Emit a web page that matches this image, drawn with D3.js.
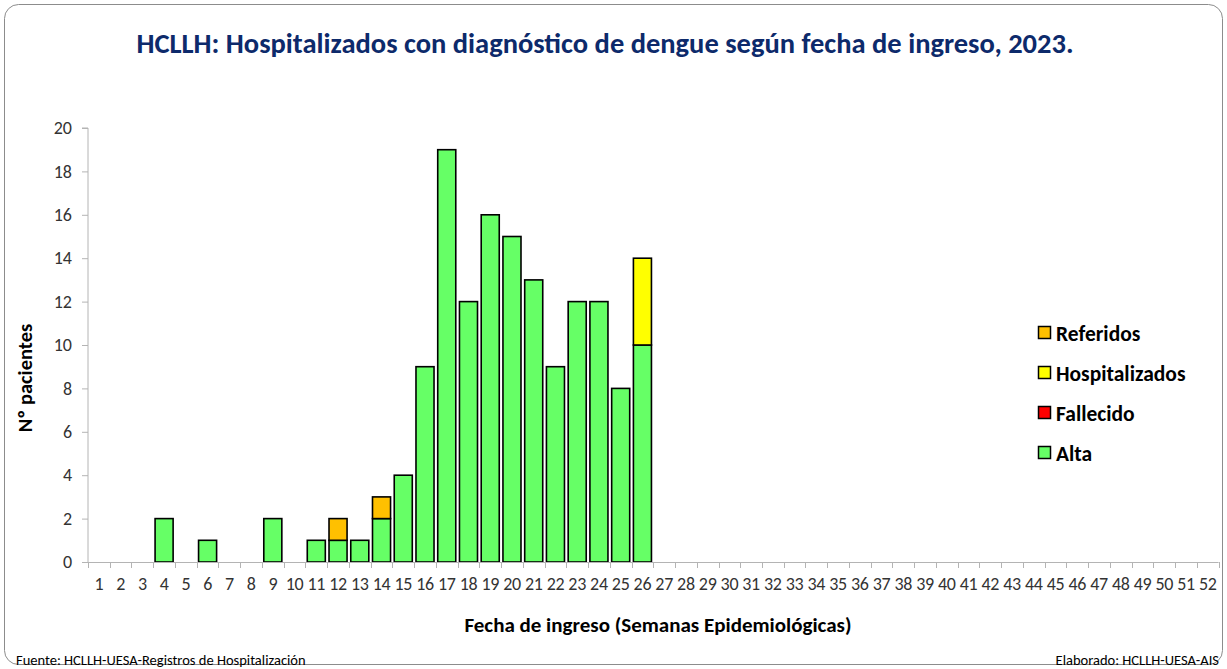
<!DOCTYPE html>
<html>
<head>
<meta charset="utf-8">
<script src="https://cdn.jsdelivr.net/npm/d3@7.9.0/dist/d3.min.js"></script>
<style>
  body { margin: 0; background: #fff; }
  svg { display: block; }
  text { font-family: Calibri, Carlito, "Open Sans", "Liberation Sans", sans-serif; }
</style>
</head>
<body>
<svg width="1227" height="669"></svg>
<script>
// weeks 1..52
const weeks = d3.range(1, 53);

// values per series, [week, count]
const alta = [[4,2],[6,1],[9,2],[11,1],[12,1],[13,1],[14,2],[15,4],[16,9],[17,19],[18,12],
  [19,16],[20,15],[21,13],[22,9],[23,12],[24,12],[25,8],[26,10]];
const fallecido = [];
const hospitalizados = [[26,4]];
const referidos = [[12,1],[14,1]];

const seriesNames = ['Alta', 'Fallecido', 'Hospitalizados', 'Referidos'];
const seriesColors = ['#66FF66', '#FF0000', '#FFFF00', '#FFC000'];
const yTicks = [0, 2, 4, 6, 8, 10, 12, 14, 16, 18, 20];

// table for the stack
const lookup = [alta, fallecido, hospitalizados, referidos].map(s => new Map(s));
const table = weeks.map(w => {
  let row = { week: w };
  seriesNames.forEach((name, i) => row[name] = lookup[i].get(w) || 0);
  return row;
});

const svg = d3.select('svg');

// chart frame
svg.append('rect')
  .attr('x', 4.5).attr('y', 4.5)
  .attr('width', 1218).attr('height', 660)
  .attr('rx', 14)
  .attr('fill', '#fff')
  .attr('stroke', '#8c8c8c')
  .attr('stroke-width', 1);

const plotLeft = 88, plotRight = 1218.6, plotTop = 128, plotBottom = 562;
const axisGrey = '#b4b4b4';

const x = d3.scaleBand().domain(weeks).range([plotLeft, plotRight]).paddingInner(0.17).paddingOuter(0.085);
const y = d3.scaleLinear().domain([0, 20]).range([plotBottom, plotTop]);

// title
svg.append('text')
  .attr('x', 605).attr('y', 53)
  .attr('text-anchor', 'middle')
  .attr('font-size', 28.5).attr('font-weight', 'bold')
  .attr('fill', '#0D2A6B')
  .text('HCLLH: Hospitalizados con diagnóstico de dengue según fecha de ingreso, 2023.');

// bars
const stacked = d3.stack().keys(seriesNames)(table);
const color = d3.scaleOrdinal(seriesNames, seriesColors);

svg.append('g').selectAll('g')
  .data(stacked)
  .join('g')
  .attr('fill', d => color(d.key))
  .selectAll('rect')
  .data(d => d.filter(p => p[1] > p[0]))
  .join('rect')
  .attr('x', d => x(d.data.week))
  .attr('y', d => y(d[1]))
  .attr('width', x.bandwidth())
  .attr('height', d => y(d[0]) - y(d[1]))
  .attr('stroke', '#000')
  .attr('stroke-width', 1.6);

// y axis
const yAxis = svg.append('g')
  .attr('transform', `translate(${plotLeft},0)`)
  .call(d3.axisLeft(y).tickValues(yTicks).tickSize(6).tickPadding(10));
yAxis.select('.domain').attr('stroke', axisGrey).attr('d', `M-6,${plotTop}H0V${plotBottom}`);
yAxis.selectAll('.tick line').attr('stroke', axisGrey);
yAxis.selectAll('.tick text')
  .attr('font-size', 18).attr('fill', '#333')
  .style('font-family', 'Calibri, Carlito, "Open Sans", sans-serif');

// x axis: ticks at band edges
const xg = svg.append('g');
xg.append('line')
  .attr('x1', plotLeft).attr('x2', plotRight)
  .attr('y1', plotBottom + 0.5).attr('y2', plotBottom + 0.5)
  .attr('stroke', axisGrey);
const step = x.step();
xg.selectAll('line.tk')
  .data(d3.range(0, weeks.length + 1))
  .join('line')
  .attr('class', 'tk')
  .attr('x1', i => Math.round(plotLeft + i * step) + 0.5)
  .attr('x2', i => Math.round(plotLeft + i * step) + 0.5)
  .attr('y1', plotBottom)
  .attr('y2', plotBottom + 6)
  .attr('stroke', axisGrey);
xg.selectAll('text')
  .data(weeks)
  .join('text')
  .attr('x', w => x(w) + x.bandwidth() / 2)
  .attr('y', plotBottom + 28)
  .attr('text-anchor', 'middle')
  .attr('font-size', 18)
  .attr('letter-spacing', -0.3)
  .attr('fill', '#333')
  .text(w => w);

// axis titles
svg.append('text')
  .attr('x', 658).attr('y', 632)
  .attr('text-anchor', 'middle')
  .attr('font-size', 21).attr('font-weight', 'bold')
  .attr('fill', '#000')
  .text('Fecha de ingreso (Semanas Epidemiológicas)');

svg.append('text')
  .attr('transform', 'translate(32,378) rotate(-90)')
  .attr('text-anchor', 'middle')
  .attr('font-size', 20.5).attr('font-weight', 'bold')
  .attr('fill', '#000')
  .text('Nº pacientes');

// legend (reverse order, top = Referidos)
const legendItems = seriesNames.slice().reverse();
const lg = svg.append('g').selectAll('g')
  .data(legendItems)
  .join('g')
  .attr('transform', (d, i) => `translate(1038,${333 + i * 40})`);
lg.append('rect')
  .attr('x', 0.5).attr('y', -6.5)
  .attr('width', 12).attr('height', 12)
  .attr('fill', d => color(d))
  .attr('stroke', '#000').attr('stroke-width', 1.5);
lg.append('text')
  .attr('x', 18).attr('y', 7.5)
  .attr('font-size', 21.5).attr('font-weight', 'bold')
  .attr('fill', '#000')
  .text(d => d);

// footer
svg.append('text')
  .attr('x', 16).attr('y', 665)
  .attr('font-size', 14.5).attr('fill', '#000')
  .text('Fuente: HCLLH-UESA-Registros de Hospitalización');
svg.append('text')
  .attr('x', 1219).attr('y', 665)
  .attr('text-anchor', 'end')
  .attr('font-size', 14.5).attr('fill', '#000')
  .text('Elaborado: HCLLH-UESA-AIS');
</script>
</body>
</html>
